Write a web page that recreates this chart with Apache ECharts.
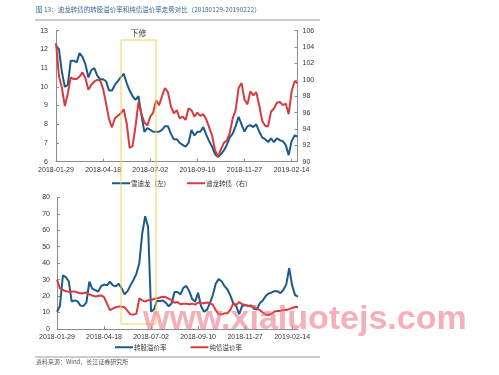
<!DOCTYPE html>
<html>
<head>
<meta charset="utf-8">
<script src="https://cdn.jsdelivr.net/npm/echarts@6/dist/echarts.min.js"></script>
<style>html,body{margin:0;padding:0;background:#fff}#c{width:499px;height:375px}</style>
</head>
<body>
<div id="c"></div>
<script>
const tickLabels = ['2018-01-29','2018-04-18','2018-07-02','2018-09-10','2018-11-27','2019-02-14'];
const pointsPerTick = 16;
const stockPrice = [12.2,12.0,10.8,10.0,10.1,11.4,11.4,11.3,11.8,11.6,
  11.2,10.5,10.9,11.0,10.6,10.4,10.4,10.3,9.8,9.8,
  10.1,10.3,10.5,10.7,10.2,9.8,9.5,9.3,9.5,8.5,
  7.6,7.8,7.7,7.6,7.6,7.6,7.7,7.9,7.9,7.5,
  7.2,7.2,7.0,6.9,6.8,7.0,7.7,7.4,7.6,7.6,
  7.85,7.45,7.1,6.8,6.4,6.25,6.4,6.6,6.9,7.3,
  7.5,7.9,8.4,8.0,7.6,7.9,7.95,7.85,8.0,7.6,
  7.3,7.2,7.05,7.25,7.05,7.25,7.15,7.1,6.9,6.35,
  7.1,7.4,7.35];
const bondPrice = [104.5,100.5,99,96.8,98.3,100.3,100.1,100.1,100.4,100.9,
  100.2,98.8,99.4,99.8,100,99.9,98.9,97.1,95.2,94.2,
  95.3,95.6,95.9,96.4,94.7,91.7,91.9,94.3,97.3,95.8,
  94.8,94.4,95.5,96.0,97.5,96.9,98.0,99.0,98.5,96.8,
  95.9,96.3,95.3,95.5,95.1,96.5,96.3,95.5,96.0,95.6,
  95.8,95.2,94.2,93.2,91.4,90.6,91.5,92.3,92.6,93.5,
  95.3,96.3,99.0,99.6,97.6,97.0,98.6,98.1,98.5,96.9,
  95.0,94.4,94.3,96.1,96.5,97.2,97.3,96.9,97.1,95.8,
  98.6,99.8,99.6];
const convPremium = [10.5,14,32.5,31.5,29,16.6,17.4,16.8,14.2,14,
  16,28.7,24.5,23.6,22.7,26,27,26.5,28.7,26.5,
  26,27.5,24.7,21,23,26.5,29.8,33.5,40,58,
  68.5,62,10.5,12,17,17,17.3,16,13.8,15.6,
  22.5,22.5,21,25,26.2,23,18.2,16.6,22,14,
  10.5,11.6,15.6,20.5,27.5,30.3,29,26,24,20.3,
  15.6,13.8,9,14,14.5,14,14.3,12.3,11.8,15.6,
  17.3,20,21.5,22.2,23,23,21.8,23.7,27,37,
  26.5,20.6,19.6];
const bondPremium = [30,24.7,23.8,22.9,22.7,22.8,22.8,22.2,21.7,21.7,
  22.2,21,20.3,19.8,20.1,20.4,19.4,15.4,11.5,12.4,
  13.2,13.6,13.6,13.2,11,8.9,8.8,9.2,18.6,17.4,
  16.6,17.5,17.6,18.2,18.6,19.1,19.6,19.3,18.5,17.6,
  16,16.4,15,15.3,15.4,15.1,15.4,14.8,16.1,15.6,
  15.7,16.1,15.6,14.8,11.5,9,9,9.5,9.5,11.8,
  15.6,14.6,16.4,15,14.6,14.2,13.6,13.6,12.4,11.5,
  10,8.8,8.5,9.3,10.6,11,11,11.5,11.5,12.1,
  12.8,13.4,13.3];

const categories = stockPrice.map((v, i) => (i % pointsPerTick === 0 && tickLabels[i / pointsPerTick]) ? tickLabels[i / pointsPerTick] : '');

const BLUE = '#1b5a8c', RED = '#d83b3e';
const FONT = '"Liberation Sans", Arial, "Noto Sans CJK SC", sans-serif';
const axisLine = {lineStyle: {color: '#8c8c8c', width: 1}};
const lbl = {color: '#333', fontSize: 7, fontFamily: FONT};

function xAx(gi) {
  return {
    type: 'category', gridIndex: gi, data: categories, boundaryGap: false,
    axisLine: axisLine,
    axisTick: {inside: true, length: 3, interval: pointsPerTick - 1, lineStyle: {color: '#8c8c8c'}},
    axisLabel: Object.assign({interval: pointsPerTick - 1, margin: 5}, lbl),
    splitLine: {show: false}
  };
}
function yAx(gi, min, max, interval, pos, margin) {
  return {
    type: 'value', gridIndex: gi, min: min, max: max, interval: interval, position: pos,
    axisLine: Object.assign({show: true}, axisLine),
    axisTick: {show: true, inside: true, length: 3, lineStyle: {color: '#8c8c8c'}},
    axisLabel: Object.assign({margin: margin}, lbl),
    splitLine: {show: false}
  };
}

const chart = echarts.init(document.getElementById('c'), null, {renderer: 'canvas'});
chart.setOption({
  animation: false,
  backgroundColor: '#fff',
  textStyle: {fontFamily: FONT},
  grid: [
    {left: 56, right: 201.5, top: 30.7, height: 131},
    {left: 57, right: 201, top: 197.3, height: 131.7}
  ],
  xAxis: [xAx(0), xAx(1)],
  yAxis: [
    yAx(0, 6, 13, 1, 'left', 8),
    yAx(0, 90, 106, 2, 'right', 5),
    yAx(1, 0, 80, 10, 'left', 7)
  ],
  legend: [
    {left: 107, top: 175, itemWidth: 18, itemHeight: 2, itemGap: 17, icon: 'rect',
     textStyle: {fontSize: 6.5, color: '#333', fontFamily: '"Noto Sans CJK SC", sans-serif', padding: [0,0,0,-4]},
     data: ['雪迪龙（左）', '迪龙转债（右）']},
    {left: 110, top: 339, itemWidth: 18, itemHeight: 2, itemGap: 24, icon: 'rect',
     textStyle: {fontSize: 6.5, color: '#333', fontFamily: '"Noto Sans CJK SC", sans-serif', padding: [0,0,0,-4]},
     data: ['转股溢价率', '纯债溢价率']}
  ],
  series: [
    {name: '雪迪龙（左）', type: 'line', xAxisIndex: 0, yAxisIndex: 0, data: stockPrice, showSymbol: false,
     lineStyle: {color: BLUE, width: 2}, itemStyle: {color: BLUE}},
    {name: '迪龙转债（右）', type: 'line', xAxisIndex: 0, yAxisIndex: 1, data: bondPrice, showSymbol: false,
     lineStyle: {color: RED, width: 2}, itemStyle: {color: RED}},
    {name: '转股溢价率', type: 'line', xAxisIndex: 1, yAxisIndex: 2, data: convPremium, showSymbol: false,
     lineStyle: {color: BLUE, width: 2}, itemStyle: {color: BLUE}},
    {name: '纯债溢价率', type: 'line', xAxisIndex: 1, yAxisIndex: 2, data: bondPremium, showSymbol: false,
     lineStyle: {color: RED, width: 2}, itemStyle: {color: RED}}
  ],
  graphic: [
    {type: 'text', left: 36, top: 6, z: 10,
     style: {text: '图 13：迪龙转债的转股溢价率和纯债溢价率走势对比（20180129-20190222）', fontSize: 6.5,
             fill: '#3a6a9a', fontFamily: '"Noto Sans CJK SC", sans-serif'}},
    {type: 'line', z: 10, shape: {x1: 35, y1: 20, x2: 320, y2: 20}, style: {stroke: '#999', lineWidth: 1}},
    {type: 'rect', z: 20, shape: {x: 121, y: 40, width: 35, height: 284},
     style: {fill: 'none', stroke: '#ecd25a', lineWidth: 1}},
    {type: 'text', z: 20, x: 138.5, y: 33, style: {text: '下修', fontSize: 8, fill: '#333', align: 'center',
     verticalAlign: 'middle', fontFamily: '"Noto Sans CJK SC", sans-serif'}},
    {type: 'line', z: 10, shape: {x1: 35, y1: 357, x2: 320, y2: 357}, style: {stroke: '#999', lineWidth: 1}},
    {type: 'text', left: 36, top: 359, z: 10,
     style: {text: '资料来源：Wind，长江证券研究所', fontSize: 6, fill: '#555', fontFamily: '"Noto Sans CJK SC", sans-serif'}},
    {type: 'text', z: 30, x: 143, y: 320,
     style: {text: 'www.xialuotejs.com', fontSize: 34, fontWeight: 'bold', fill: 'rgba(238,110,125,0.55)',
             fontFamily: '"Liberation Sans", Arial, sans-serif', verticalAlign: 'middle'}}
  ]
});
</script>
</body>
</html>
